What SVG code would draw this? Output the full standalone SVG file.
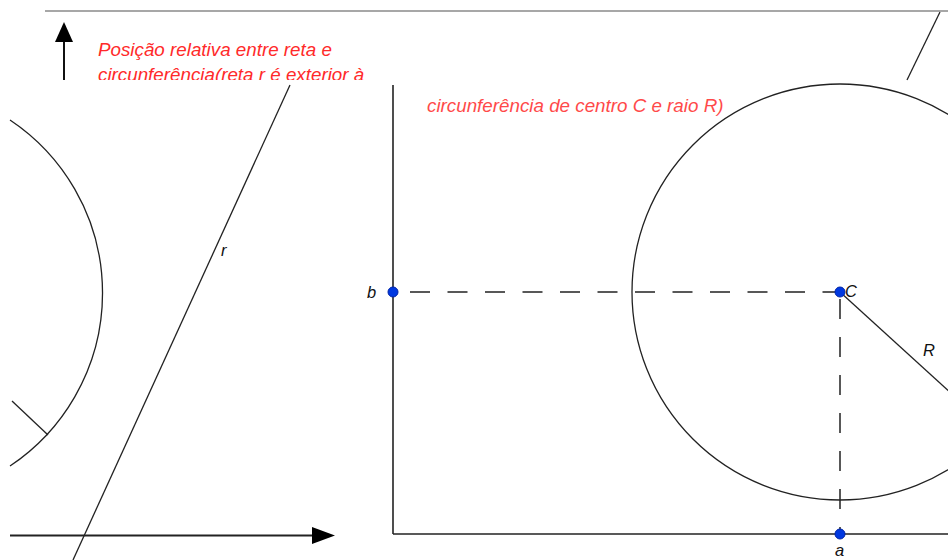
<svg xmlns="http://www.w3.org/2000/svg" width="948" height="560" viewBox="0 0 948 560">
  <defs>
    <style>
      .ln { stroke: #222; stroke-width: 1.3; fill: none; }
      .axis { stroke: #222; stroke-width: 1.6; fill: none; }
      .dash { stroke: #222; stroke-width: 1.5; fill: none; }
      .red { font-family: "Liberation Sans", Arial, sans-serif; font-style: italic; font-size: 18.8px; fill: #ff2a2a; }
      .lbl { font-family: "Liberation Sans", Arial, sans-serif; font-style: italic; font-size: 16.5px; fill: #111; }
      .pt { fill: #0038e0; stroke: #0024a8; stroke-width: 1; }
    </style>
    <clipPath id="clipL2">
      <rect x="0" y="60" width="380" height="20"/>
    </clipPath>
  </defs>
  <rect width="948" height="560" fill="#fff"/>

  <!-- top frame line -->
  <line x1="45" y1="11" x2="948" y2="11" stroke="#8a8a8a" stroke-width="1.5"/>

  <!-- left panel -->
  <g id="up-arrow">
    <line x1="64" y1="80" x2="64" y2="40" stroke="#111" stroke-width="2"/>
    <path d="M55,42 L64,22 L73,42 Z" fill="#000"/>
  </g>
  <g id="title">
    <text class="red" x="98" y="56">Posição relativa entre reta e</text>
    <text class="red" x="98" y="81" clip-path="url(#clipL2)">circunferência(reta r é exterior à</text>
  </g>
  <g id="circle-left">
    <path class="ln" d="M10,120 A208,208 0 0 1 10,466"/>
    <line class="ln" x1="12" y1="401" x2="48" y2="435"/>
  </g>
  <g id="line-r">
    <line class="ln" x1="290" y1="85" x2="73" y2="560"/>
    <text class="lbl" x="221" y="256">r</text>
  </g>
  <g id="x-axis-left">
    <line x1="10" y1="535.5" x2="314" y2="535.5" stroke="#222" stroke-width="2"/>
    <path d="M312,527 L335,535.5 L312,544 Z" fill="#000"/>
  </g>

  <!-- right panel -->
  <g id="subtitle">
    <text class="red" x="427" y="112" opacity="0.85">circunferência de centro C e raio R)</text>
  </g>
  <g id="axes-right">
    <line class="axis" x1="393" y1="85" x2="393" y2="534"/>
    <line class="axis" x1="393" y1="534" x2="948" y2="534"/>
  </g>
  <g id="circle-right">
    <circle class="ln" cx="840" cy="292" r="208"/>
    <line class="ln" x1="940" y1="12" x2="907" y2="80"/>
  </g>
  <g id="connectors">
    <line class="dash" x1="410" y1="292" x2="836" y2="292" stroke-dasharray="20 17.5"/>
    <line class="dash" x1="840" y1="292" x2="840" y2="530" stroke-dasharray="20 18" stroke-dashoffset="-7"/>
    <line class="ln" x1="840" y1="292" x2="962" y2="403"/>
  </g>
  <g id="label-R">
    <text class="lbl" x="923" y="356">R</text>
  </g>
  <g id="point-b">
    <circle class="pt" cx="393" cy="292" r="5"/>
    <text class="lbl" x="367" y="298">b</text>
  </g>
  <g id="point-C">
    <circle class="pt" cx="840" cy="292" r="5"/>
    <text class="lbl" x="845" y="297">C</text>
  </g>
  <g id="point-a">
    <circle class="pt" cx="840" cy="534" r="5"/>
    <text class="lbl" x="835" y="556">a</text>
  </g>
</svg>
